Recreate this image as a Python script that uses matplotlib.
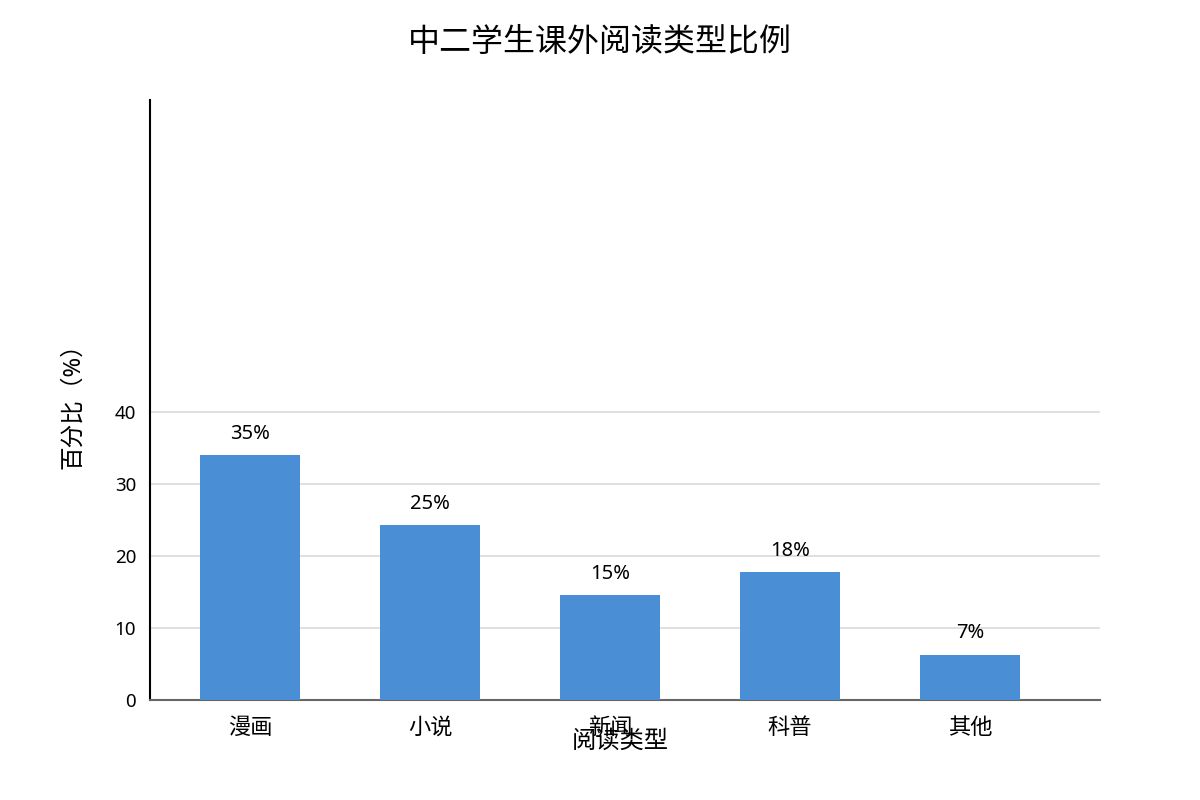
import matplotlib
matplotlib.use('Agg')
import matplotlib.pyplot as plt

plt.rcParams['font.family'] = ['Noto Sans', 'Noto Sans CJK SC', 'DejaVu Sans']

categories = ['漫画', '小说', '新闻', '科普', '其他']
values = [34.0, 24.3, 14.6, 17.8, 6.3]
value_labels = ['35%', '25%', '15%', '18%', '7%']
yticks = [0, 10, 20, 30, 40]

fig = plt.figure(figsize=(12, 8), dpi=100)
ax = fig.add_axes([0.125, 0.125, 0.7917, 0.75])

x = list(range(len(categories)))
bars = ax.bar(x, values, width=0.556, color='#4a8fd6', zorder=3)

for b, lab in zip(bars, value_labels):
    ax.annotate(lab, (b.get_x() + b.get_width() / 2, b.get_height()),
                xytext=(0, 8), textcoords='offset points',
                ha='center', va='bottom', fontsize=14.5)

ax.set_xlim(-0.556, 4.722)
ax.set_ylim(0, 83.2)
ax.set_yticks(yticks)
ax.set_xticks(x)
ax.set_xticklabels(categories, fontsize=16)
ax.tick_params(axis='y', labelsize=13.5, length=0, pad=10)
ax.tick_params(axis='x', length=0, pad=13)

for t in yticks[1:]:
    ax.axhline(t, color='#dddddd', linewidth=1.3, zorder=1)

for s in ['top', 'right']:
    ax.spines[s].set_visible(False)
ax.spines['left'].set_color('black')
ax.spines['left'].set_linewidth(1.5)
ax.spines['bottom'].set_color('#666666')
ax.spines['bottom'].set_linewidth(1.5)

ax.set_xlabel('阅读类型', fontsize=17.5)
ax.xaxis.set_label_coords(0.495, -0.05)
ax.set_ylabel('百分比（%）', fontsize=17)
ax.yaxis.set_label_coords(-0.068, 0.5)

fig.suptitle('中二学生课外阅读类型比例', fontsize=23, y=0.968)

fig.savefig('out.png', dpi=100)
